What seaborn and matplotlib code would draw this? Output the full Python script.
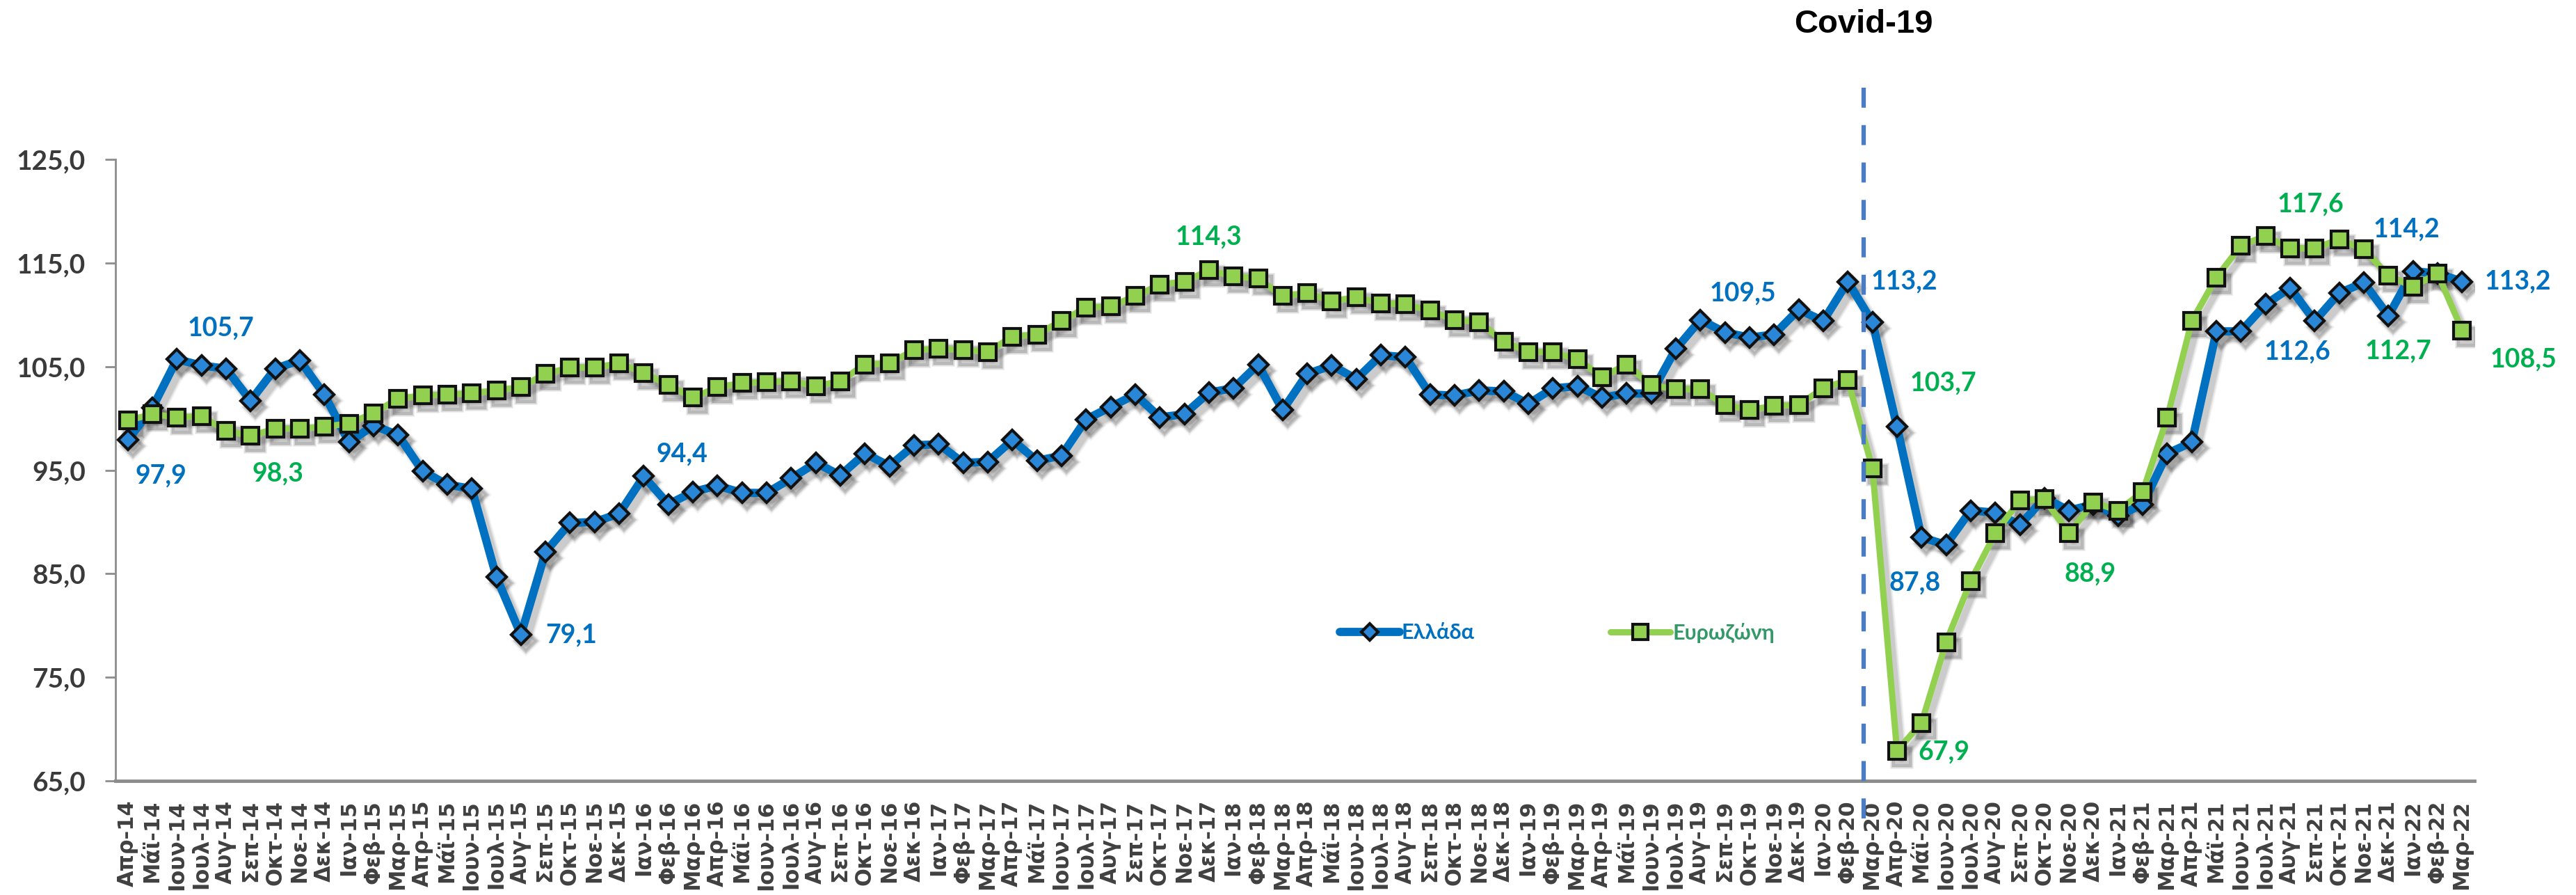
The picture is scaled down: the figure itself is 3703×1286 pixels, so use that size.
import numpy as np
import pandas as pd
import matplotlib
matplotlib.use('Agg')
import matplotlib.pyplot as plt
import matplotlib.transforms as mtrans
from matplotlib.ticker import FuncFormatter, FixedLocator
import seaborn as sns

# month names (greek), series start at Απρ-14 and end at Μαρ-22
month_names = ['Ιαν', 'Φεβ', 'Μαρ', 'Απρ', 'Μάϊ', 'Ιουν', 'Ιουλ', 'Αυγ', 'Σεπ', 'Οκτ', 'Νοε', 'Δεκ']
tick_labels = [f'{month_names[(3 + k) % 12]}-{14 + (3 + k) // 12}' for k in range(96)]

greece = [97.9, 101.0, 105.7, 105.1, 104.8, 101.7, 104.8, 105.6, 102.3,
          97.7, 99.3, 98.4, 94.9, 93.6, 93.2, 84.7, 79.1, 87.1, 89.9, 90.0, 90.8,
          94.4, 91.7, 92.9, 93.5, 92.8, 92.8, 94.2, 95.7, 94.5, 96.6, 95.4, 97.4,
          97.5, 95.7, 95.8, 97.9, 95.9, 96.4, 99.9, 101.1, 102.3, 100.1, 100.4, 102.5,
          102.9, 105.2, 100.8, 104.3, 105.1, 103.8, 106.1, 105.9, 102.3, 102.2, 102.7, 102.6,
          101.4, 102.9, 103.1, 102.0, 102.4, 102.4, 106.7, 109.5, 108.3, 107.8, 108.1, 110.5,
          109.4, 113.2, 109.3, 99.2, 88.5, 87.8, 91.1, 90.9, 89.7, 92.3, 91.1, 91.7,
          90.6, 91.7, 96.6, 97.7, 108.4, 108.4, 111.0, 112.6, 109.4, 112.1, 113.1, 109.9,
          114.2, 114.0, 113.2]

eurozone = [99.8, 100.4, 100.1, 100.2, 98.8, 98.3, 99.0, 99.0, 99.2,
            99.5, 100.5, 101.9, 102.2, 102.3, 102.4, 102.7, 103.0, 104.3, 104.9, 104.9, 105.3,
            104.4, 103.2, 102.0, 103.0, 103.4, 103.5, 103.6, 103.1, 103.6, 105.2, 105.3, 106.6,
            106.7, 106.6, 106.4, 107.9, 108.1, 109.4, 110.7, 110.8, 111.8, 112.9, 113.2, 114.3,
            113.7, 113.5, 111.8, 112.1, 111.3, 111.7, 111.1, 111.0, 110.4, 109.5, 109.3, 107.4,
            106.4, 106.4, 105.7, 104.0, 105.2, 103.2, 102.8, 102.8, 101.3, 100.8, 101.2, 101.3,
            102.9, 103.7, 95.2, 67.9, 70.6, 78.4, 84.3, 88.9, 92.1, 92.2, 88.9, 91.9,
            91.1, 92.9, 100.1, 109.4, 113.6, 116.7, 117.6, 116.4, 116.4, 117.3, 116.3, 113.8,
            112.7, 114.0, 108.5]

y_ticks = [65, 75, 85, 95, 105, 115, 125]
covid_x = 70.65  # between Φεβ-20 and Μαρ-20

# data labels: (series, month index, x offset px, y offset px downwards)
point_labels = [
    ('gr', 0, 48, 51), ('gr', 2, 63, -45), ('ez', 5, 39, 54), ('gr', 16, 72, 0),
    ('gr', 21, 55, -32), ('ez', 44, 0, -48), ('gr', 64, 61, -38), ('gr', 70, 81, 0),
    ('ez', 70, 137, 4), ('gr', 74, -45, 55), ('ez', 72, 67, 2), ('ez', 79, 30, 58),
    ('ez', 87, 65, -46), ('gr', 93, -9, -60), ('gr', 88, 10, 92), ('ez', 93, -21, 92),
    ('gr', 95, 80, 0), ('ez', 95, 88, 42),
]

blue = '#0070C0'
green = '#92D050'

idx = np.arange(len(tick_labels))
df = pd.DataFrame({'idx': idx, 'Ελλάδα': greece, 'Ευρωζώνη': eurozone})

sns.set_style('white')
plt.rcParams['font.family'] = ['Lato', 'DejaVu Sans']

fig = plt.figure(figsize=(37.03, 12.86), dpi=100)
ax = fig.add_axes([166 / 3703, 1 - 1122 / 1286, (3557 - 166) / 3703, (1122 - 229) / 1286])

# soft (fake-blurred) shadows under the lines
shadow = mtrans.offset_copy(ax.transData, fig=fig, x=7, y=-9, units='dots')
for grow, a in [(5, 0.05), (2.5, 0.07), (0, 0.09)]:
    ax.plot(df['idx'], df['Ελλάδα'], transform=shadow, color='k', alpha=a, lw=8.5 + grow,
            marker='D', ms=14 + grow, mfc='k', mec='k', mew=3, zorder=1)
    ax.plot(df['idx'], df['Ευρωζώνη'], transform=shadow, color='k', alpha=a, lw=6.5 + grow,
            marker='s', ms=17 + grow, mfc='k', mec='k', mew=3, zorder=1)

sns.lineplot(data=df, x='idx', y='Ελλάδα', ax=ax, color=blue, lw=8.5, marker='D',
             markersize=14, markerfacecolor='#2A86D6', markeredgecolor='#111111',
             markeredgewidth=3, label='Ελλάδα', errorbar=None, zorder=3)
sns.lineplot(data=df, x='idx', y='Ευρωζώνη', ax=ax, color=green, lw=6.5, marker='s',
             markersize=17, markerfacecolor=green, markeredgecolor='#111111',
             markeredgewidth=3, label='Ευρωζώνη', errorbar=None, zorder=4)

# value labels
series = {'gr': (greece, blue), 'ez': (eurozone, '#00B050')}
for key, i, dx, dy in point_labels:
    vals, col = series[key]
    v = vals[i]
    ax.annotate(f'{v:.1f}'.replace('.', ','), xy=(i, v), xytext=(dx, -dy),
                textcoords='offset pixels', ha='center', va='center',
                fontsize=27, fontweight='bold', color=col, zorder=6)

# covid marker
ax.axvline(covid_x, ymin=-0.06, ymax=1.125, color='#4A7CC4', lw=4.5,
           dashes=(4.6, 4.0), clip_on=False, zorder=5)
ax.text(covid_x, 1 - 35 / 1286, 'Covid-19',
        transform=mtrans.blended_transform_factory(ax.transData, fig.transFigure),
        ha='center', va='center', fontsize=34, fontweight='bold',
        family=['Liberation Sans', 'DejaVu Sans'], color='black')

# axes
ax.set_xlim(-0.5, len(tick_labels) - 0.5)
ax.set_ylim(65, 125)
ax.set_yticks(y_ticks)
ax.yaxis.set_major_formatter(FuncFormatter(lambda v, p: f'{v:.1f}'.replace('.', ',')))
for t in ax.get_yticklabels():
    t.set_fontweight('bold')
ax.set_xticks(idx)
ax.set_xticklabels(tick_labels, rotation=90, fontsize=22, fontweight='bold',
                   family=['DejaVu Sans'], color='#404040')
ax.xaxis.set_minor_locator(FixedLocator(np.arange(-0.5, len(tick_labels), 1.0)))
ax.tick_params(axis='x', which='major', length=0, pad=20)
ax.tick_params(axis='x', which='minor', length=8, width=2, color='#8c8c8c', direction='out')
ax.tick_params(axis='y', length=11, width=2, color='#8c8c8c', pad=20,
               labelsize=28, labelcolor='#3a3a3a', left=True)
plt.setp(ax.get_yticklabels(), fontweight='bold')
ax.set_xlabel('')
ax.set_ylabel('')
for s in ['top', 'right']:
    ax.spines[s].set_visible(False)
ax.spines['left'].set_color('#8c8c8c')
ax.spines['left'].set_linewidth(2)
ax.spines['bottom'].set_color('#8c8c8c')
ax.spines['bottom'].set_linewidth(3.5)
ax.grid(False)

# legend
leg = ax.legend(loc='center left', bbox_to_anchor=(1911 / 3703, 1 - 909 / 1286),
                bbox_transform=fig.transFigure, ncol=2, frameon=False,
                handlelength=2.8, handletextpad=0.1, columnspacing=6.4,
                borderpad=0, markerscale=0.9,
                prop=dict(family='Lato', weight='bold', size=22))
for t, c in zip(leg.get_texts(), ['#0070C0', '#339966']):
    t.set_color(c)

fig.savefig('out.png', dpi=100)
